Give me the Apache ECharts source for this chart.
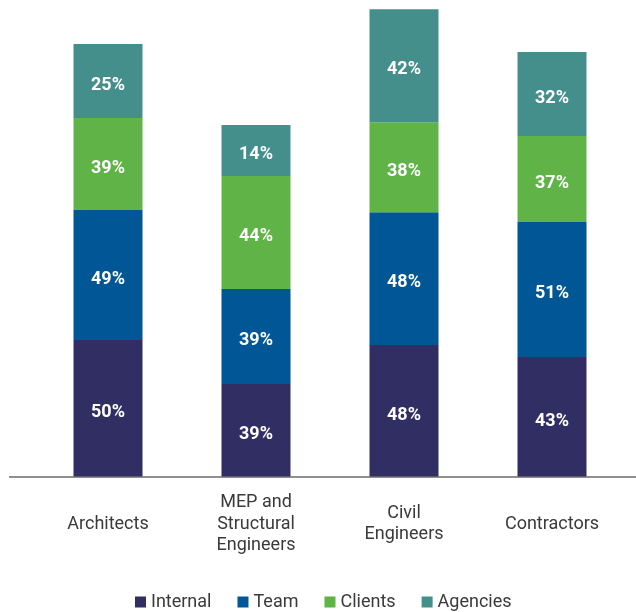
<!DOCTYPE html>
<html>
<head>
<meta charset="utf-8">
<script src="https://cdn.jsdelivr.net/npm/echarts@6/dist/echarts.min.js"></script>
<style>
html,body{margin:0;padding:0;background:#fff;}
#chart{width:636px;height:612px;}
</style>
</head>
<body>
<div id="chart"></div>
<script>
const categories = ['Architects', 'MEP and\nStructural\nEngineers', 'Civil\nEngineers', 'Contractors'];
const seriesNames = ['Internal', 'Team', 'Clients', 'Agencies'];
// segment sizes as drawn
const internalValues = [51.5, 35.0, 49.6, 45.1];
const teamValues     = [48.9, 35.7, 50.0, 50.8];
const clientsValues  = [34.6, 42.5, 33.8, 32.3];
const agenciesValues = [27.8, 19.2, 42.5, 31.6];
// printed labels
const internalLabels = ['50%', '39%', '48%', '43%'];
const teamLabels     = ['49%', '39%', '48%', '51%'];
const clientsLabels  = ['39%', '44%', '38%', '37%'];
const agenciesLabels = ['25%', '14%', '42%', '32%'];
const colors = ['#312e64', '#015795', '#5fb347', '#448e8b'];

const values = [internalValues, teamValues, clientsValues, agenciesValues];
const labels = [internalLabels, teamLabels, clientsLabels, agenciesLabels];

const chart = echarts.init(document.getElementById('chart'));
const FONT = 'Roboto';
chart.setOption({
  animation: false,
  color: colors,
  grid: {left: 34, right: 10, top: 9, bottom: 135, containLabel: false},
  legend: {
    data: seriesNames,
    left: 130,
    top: 588,
    icon: 'rect',
    itemWidth: 11,
    itemHeight: 11,
    itemGap: 26,
    textStyle: {fontFamily: FONT, fontSize: 18, color: '#3a3a3a', padding: [0, 0, 0, 0]}
  },
  xAxis: {
    type: 'category',
    data: categories,
    axisLine: {show: false},
    axisTick: {show: false},
    axisLabel: {
      interval: 0,
      margin: 47,
      verticalAlign: 'middle',
      fontFamily: FONT,
      fontSize: 18,
      lineHeight: 21.5,
      color: '#3a3a3a'
    }
  },
  yAxis: {type: 'value', min: 0, max: 176, show: false, splitLine: {show: false}},
  graphic: [{
    type: 'line',
    shape: {x1: 9, y1: 477, x2: 636, y2: 477},
    style: {stroke: '#6b6b6b', lineWidth: 1.5},
    z: 10
  }],
  series: seriesNames.map((name, i) => ({
    name: name,
    type: 'bar',
    stack: 'total',
    barWidth: 69,
    data: values[i],
    itemStyle: {color: colors[i]},
    label: {
      show: true,
      position: 'inside',
      offset: [0, 4],
      color: '#ffffff',
      fontFamily: FONT,
      fontWeight: 'bold',
      fontSize: 18,
      formatter: p => labels[i][p.dataIndex]
    }
  }))
});
</script>
</body>
</html>
